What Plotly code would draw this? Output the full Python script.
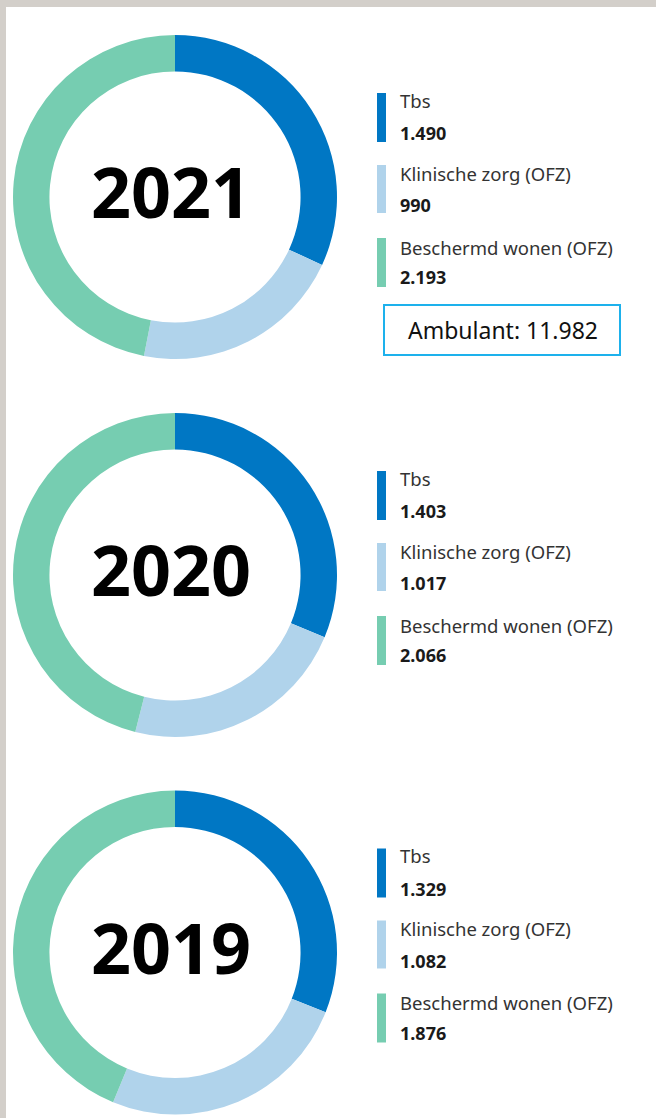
import plotly.graph_objects as go

# ---- data ----
years = ["2021", "2020", "2019"]
categories = ["Tbs", "Klinische zorg (OFZ)", "Beschermd wonen (OFZ)"]
tbs = [1490, 1403, 1329]
klinisch = [990, 1017, 1082]
beschermd = [2193, 2066, 1876]
ambulant_label = "Ambulant: 11.982"

colors = ["#0077C4", "#B0D3EB", "#76CDB1"]

W, H = 656, 1118
centers_y = [197, 575, 952.5]
cx = 175
R = 162


def fmt(v):
    return f"{v:,}".replace(",", ".")


fig = go.Figure()

# invisible pixel axes for positioning annotations / shapes
fig.update_layout(
    xaxis=dict(range=[0, W], domain=[0, 1], visible=False, fixedrange=True),
    yaxis=dict(range=[H, 0], domain=[0, 1], visible=False, fixedrange=True),
)
fig.add_trace(go.Scatter(x=[0], y=[0], mode="markers", marker=dict(opacity=0),
                         showlegend=False, hoverinfo="skip"))

shapes = []
annotations = []

# grey frame
shapes.append(dict(type="rect", xref="x", yref="y", x0=0, x1=W, y0=0, y1=7,
                   fillcolor="#D3CFCA", line=dict(width=0), layer="below"))
shapes.append(dict(type="rect", xref="x", yref="y", x0=0, x1=6, y0=0, y1=H,
                   fillcolor="#D3CFCA", line=dict(width=0), layer="below"))

for i, yr in enumerate(years):
    cy = centers_y[i]
    vals = [tbs[i], klinisch[i], beschermd[i]]
    fig.add_trace(go.Pie(
        values=vals, labels=categories, hole=0.775, sort=False,
        direction="clockwise", rotation=0,
        marker=dict(colors=colors, line=dict(width=0)),
        textinfo="none", hoverinfo="label+value", showlegend=False,
        domain=dict(x=[(cx - R) / W, (cx + R) / W],
                    y=[1 - (cy + R) / H, 1 - (cy - R) / H]),
    ))
    annotations.append(dict(x=cx - 4, y=cy - 6, xref="x", yref="y", text=f"<b>{yr}</b>",
                            showarrow=False, xanchor="center", yanchor="middle",
                            font=dict(family="Noto Sans", size=70, color="#000000")))
    bar_offsets = [(-104, -55), (-32, 16), (41, 90)]
    label_offsets = [-97, -24, 50]
    value_offsets = [-64, 8, 80]
    for k in range(3):
        y0, y1 = bar_offsets[k]
        shapes.append(dict(type="rect", xref="x", yref="y", x0=377, x1=386,
                           y0=cy + y0, y1=cy + y1, fillcolor=colors[k],
                           line=dict(width=0)))
        annotations.append(dict(x=398, y=cy + label_offsets[k], xref="x", yref="y",
                                text=categories[k], showarrow=False,
                                xanchor="left", yanchor="middle",
                                font=dict(family="Noto Sans", size=18.5, color="#333333")))
        annotations.append(dict(x=398, y=cy + value_offsets[k], xref="x", yref="y",
                                text=f"<b>{fmt(vals[k])}</b>", showarrow=False,
                                xanchor="left", yanchor="middle",
                                font=dict(family="Noto Sans", size=18, color="#1A1A1A")))

# Ambulant box
shapes.append(dict(type="rect", xref="x", yref="y", x0=384, x1=620, y0=305, y1=355,
                   line=dict(color="#1DB1EC", width=2), fillcolor="rgba(0,0,0,0)"))
annotations.append(dict(x=503, y=330, xref="x", yref="y", text=ambulant_label,
                        showarrow=False, xanchor="center", yanchor="middle",
                        font=dict(family="Noto Sans", size=23, color="#111111")))

fig.update_layout(
    width=W, height=H, margin=dict(l=0, r=0, t=0, b=0),
    paper_bgcolor="white", plot_bgcolor="rgba(0,0,0,0)",
    shapes=shapes, annotations=annotations, showlegend=False,
)

fig.write_html("out.html",
               config={"displayModeBar": False},
               post_script="document.body.style.margin='0';"
                           "document.body.style.overflow='hidden';")
